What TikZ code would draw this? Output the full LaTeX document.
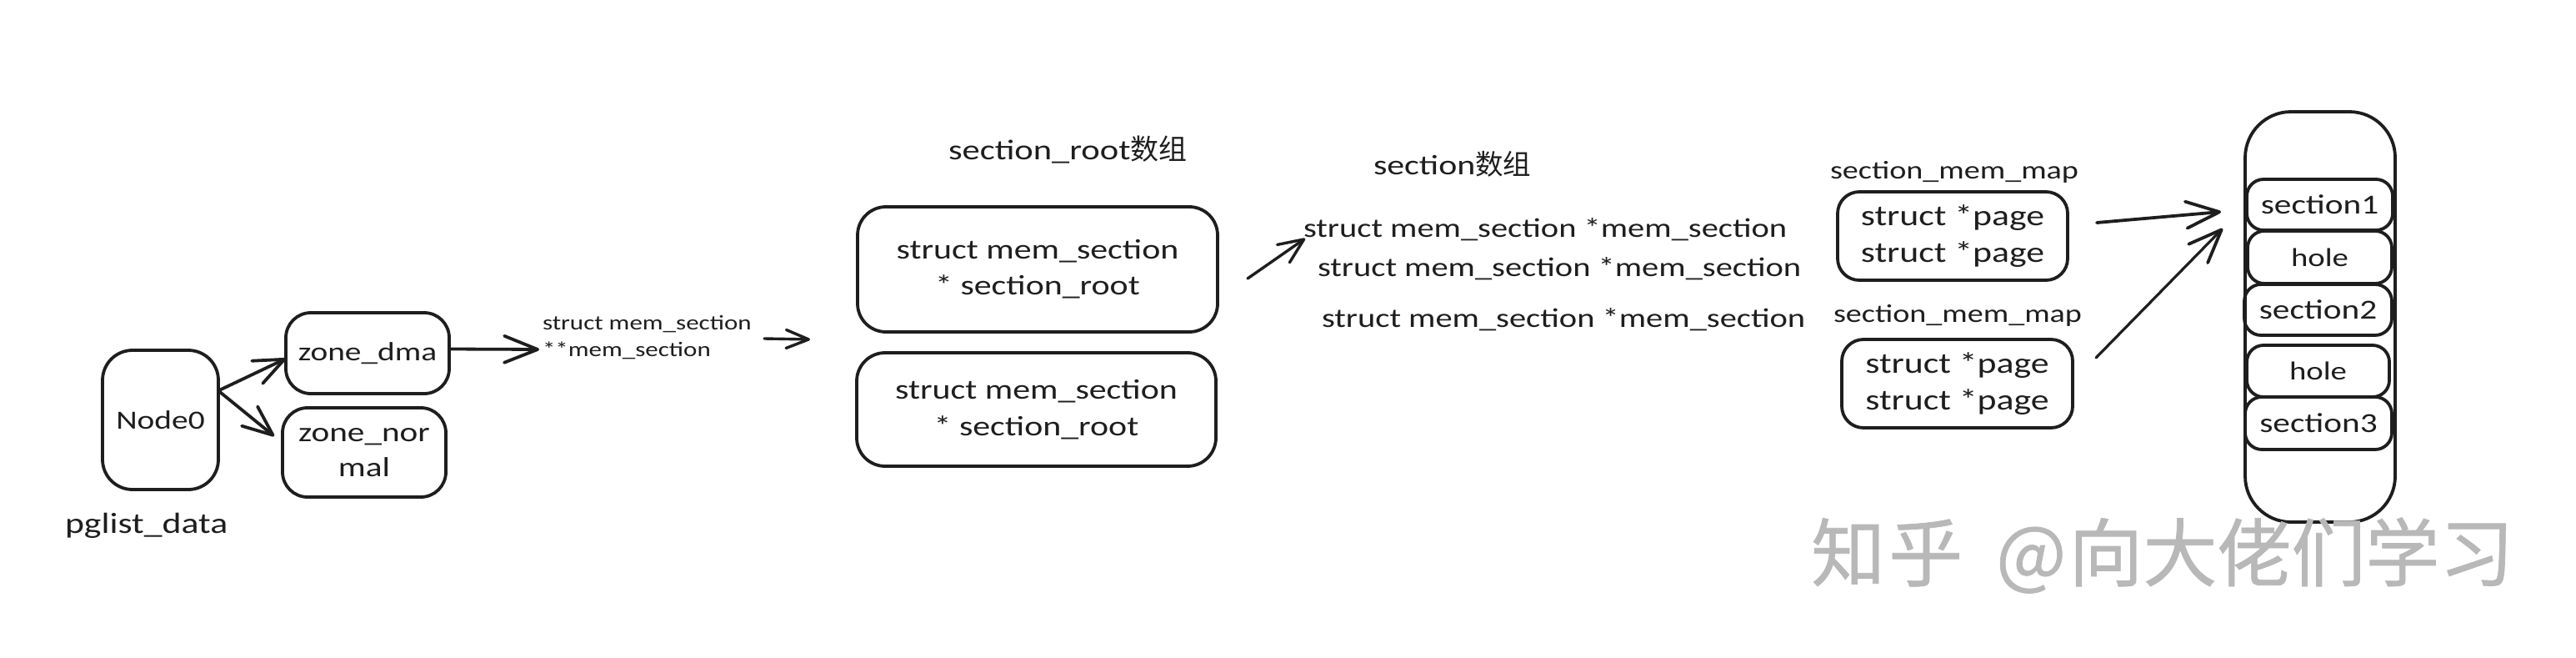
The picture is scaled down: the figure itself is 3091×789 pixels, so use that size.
\documentclass[tikz,border=0pt]{standalone}
\usepackage{fontspec}
\usetikzlibrary{arrows.meta}
\setmainfont{Carlito}[FakeStretch=1.25]
\newfontfamily\cjk{Noto Sans CJK SC}
\newfontfamily\wmfont{Noto Sans CJK SC}[FakeBold=0.8]
\newcommand\hf[2]{\fontsize{#1}{#2}\selectfont}
\definecolor{ink}{HTML}{1E1E1E}
\definecolor{wmgray}{HTML}{B8B8B8}
\tikzset{
  box/.style={draw=ink,line width=3.8pt,rectangle,inner sep=0pt,outer sep=0pt,align=center,text=ink,rounded corners=30pt},
  label/.style={inner sep=0pt,outer sep=0pt,text=ink},
  conn/.style={draw=ink,line width=3.8pt,line cap=round,-{Straight Barb[length=40pt,width=32pt,line width=3.8pt,round]}},
  connsm/.style={draw=ink,line width=3.4pt,line cap=round,-{Straight Barb[length=27pt,width=22pt,line width=3.4pt,round]}}
}
\begin{document}
\begin{tikzpicture}[x=1pt,y=-1pt]
\useasboundingbox (0,0) rectangle (3091,789);
\fill[white] (0,0) rectangle (3091,789);
% left group
\node[box,minimum width=139pt,minimum height=167pt,rounded corners=36pt,font=\hf{31.5}{42}] (node0) at (192.5,503.5) {Node0};
\node[box,minimum width=196pt,minimum height=97pt,font=\hf{31.5}{42}] (zd) at (441,423.5) {zone\_dma};
\node[box,minimum width=196pt,minimum height=107pt,font=\hf{33}{42}] (zn) at (437,542.5) {zone\_nor\\mal};
\node[label,anchor=west,font=\hf{35}{40}] (pg) at (78,630) {pglist\_data};
\node[label,anchor=west,align=left,font=\hf{24.8}{32}] (ms) at (651,405) {struct mem\_section\\**mem\_section};
\coordinate (fa) at (917,406);
\coordinate (fb) at (972,407);
% section_root
\node[label,anchor=west,font=\hf{34}{40}] (srt) at (1138,179) {section\_root{\cjk 数组}};
\node[box,minimum width=432pt,minimum height=150pt,rounded corners=34pt,font=\hf{33.5}{43}] (b1) at (1245,323) {struct mem\_section\\* section\_root};
\node[box,minimum width=431pt,minimum height=136pt,rounded corners=34pt,font=\hf{33.5}{44}] (b2) at (1243.5,491) {struct mem\_section\\* section\_root};
% section array
\node[label,anchor=west,font=\hf{33.5}{40}] (st) at (1648,197) {section{\cjk 数组}};
\node[label,anchor=west,font=\hf{32.4}{40}] (l1) at (1564,275) {struct mem\_section *mem\_section};
\node[label,anchor=west,font=\hf{32.4}{40}] (l2) at (1581,322) {struct mem\_section *mem\_section};
\node[label,anchor=west,font=\hf{32.4}{40}] (l3) at (1586,383) {struct mem\_section *mem\_section};
% mem map
\node[label,anchor=west,font=\hf{30.5}{40}] (mm1) at (2196,206) {section\_mem\_map};
\node[box,minimum width=276pt,minimum height=106pt,rounded corners=26pt,font=\hf{35}{44}] (p1) at (2343,283) {struct *page\\struct *page};
\node[label,anchor=west,font=\hf{30.5}{40}] (mm2) at (2200,378) {section\_mem\_map};
\node[box,minimum width=277pt,minimum height=106pt,rounded corners=26pt,font=\hf{35}{44}] (p2) at (2348.5,460) {struct *page\\struct *page};
% memory column
\node[box,minimum width=180pt,minimum height=492pt,rounded corners=55pt] (mem) at (2784,380) {};
\node[box,minimum width=175pt,minimum height=61pt,rounded corners=20pt,font=\hf{33}{40}] (s1) at (2783.5,245.5) {section1};
\node[box,minimum width=173pt,minimum height=63pt,rounded corners=20pt,font=\hf{31}{40}] (h1) at (2783.5,308.5) {hole};
\node[box,minimum width=177pt,minimum height=61pt,rounded corners=20pt,font=\hf{33}{40}] (s2) at (2781.5,371.5) {section2};
\node[box,minimum width=171pt,minimum height=62pt,rounded corners=20pt,font=\hf{31}{40}] (h2) at (2781.5,445) {hole};
\node[box,minimum width=176pt,minimum height=63pt,rounded corners=20pt,font=\hf{33}{40}] (s3) at (2782,507.5) {section3};
% connectors
\draw[conn,-{Straight Barb[length=36pt,width=30pt,line width=3.8pt,round]}] ([yshift=35pt]node0.east) -- ([yshift=-6.5pt]zd.west);
\draw[conn,-{Straight Barb[length=36pt,width=30pt,line width=3.8pt,round]}] ([yshift=35pt]node0.east) -- ([xshift=-10pt,yshift=19.5pt]zn.west);
\draw[conn] ([yshift=5pt]zd.east) -- ([xshift=-4pt,yshift=-14pt]ms.west);
\draw[connsm] (fa) -- (fb);
\draw[connsm,-{Straight Barb[length=30pt,width=26pt,line width=3.4pt,round]}] ([xshift=36pt,yshift=-11pt]b1.east) -- ([xshift=2pt,yshift=-11pt]l1.west);
\draw[conn] ([xshift=35pt,yshift=16pt]p1.east) -- ([xshift=-31pt,yshift=-8.5pt]s1.west);
\draw[conn,line width=3.2pt] ([xshift=28pt,yshift=31pt]p2.east) -- ([xshift=-29pt,yshift=-28.5pt]s1.west);
% watermark
\node[inner sep=0pt,anchor=west,text=wmgray,font=\fontsize{89}{94}\selectfont\wmfont] (wm) at (2173,666) {知\hspace{4pt}乎\hspace{40pt}@\hspace{3pt}向大佬们学习};
\end{tikzpicture}
\end{document}
